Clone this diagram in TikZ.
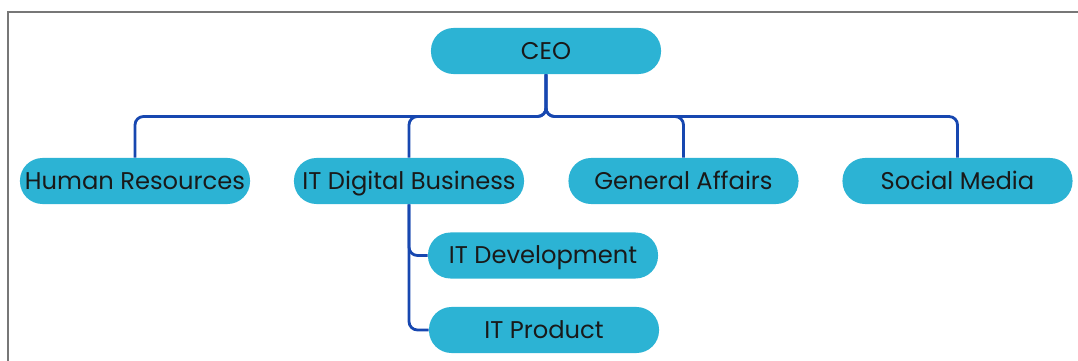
\documentclass[tikz,border=0pt]{standalone}
\usepackage{fontspec}
\setmainfont{Poppins}
\usetikzlibrary{calc}

\definecolor{boxcyan}{HTML}{2CB3D4}
\definecolor{linkblue}{HTML}{1747B0}
\definecolor{framegray}{HTML}{777777}

\tikzset{
    unit/.style={fill=boxcyan, rounded corners=16pt, minimum width=5.75cm, minimum height=1.15cm,
        inner sep=0pt, font=\fontsize{17.2}{20}\selectfont, text=black!90,
        text height=1.4em, text depth=0.2em},
    link/.style={draw=linkblue, line width=2pt, rounded corners=6pt}
}

\begin{document}
\begin{tikzpicture}[x=0.025cm, y=-0.025cm]

    \useasboundingbox (0,0) rectangle (1078,361);

    % frame
    \draw[framegray, line width=0.8pt] (8,361) -- (8,12) -- (1078,12);

    % head
    \node[unit] (ceo) at (546,51) {CEO};

    % first level
    \node[unit] (hr) at (135,181) {Human Resources};
    \node[unit] (itdb) at (409,181) {IT Digital Business};
    \node[unit] (ga) at (683.5,181) {General Affairs};
    \node[unit] (sm) at (957.5,181) {Social Media};

    % second level
    \node[unit] (itdev) at (543,255.5) {IT Development};
    \node[unit] (itprod) at (544,330) {IT Product};

    % bus under the head
    \coordinate (bus) at (546,116.5);

    % head to first level
    \draw[link] (ceo.south) |- (bus -| hr.north) -- (hr.north);
    \draw[link] (ceo.south) |- (bus -| itdb.north) -- (itdb.north);
    \draw[link] (ceo.south) |- (bus -| ga.north) -- (ga.north);
    \draw[link] (ceo.south) |- (bus -| sm.north) -- (sm.north);

    % first level to second level
    \draw[link] (itdb.south) |- (itdev.west);
    \draw[link] (itdb.south) |- (itprod.west);

\end{tikzpicture}
\end{document}
